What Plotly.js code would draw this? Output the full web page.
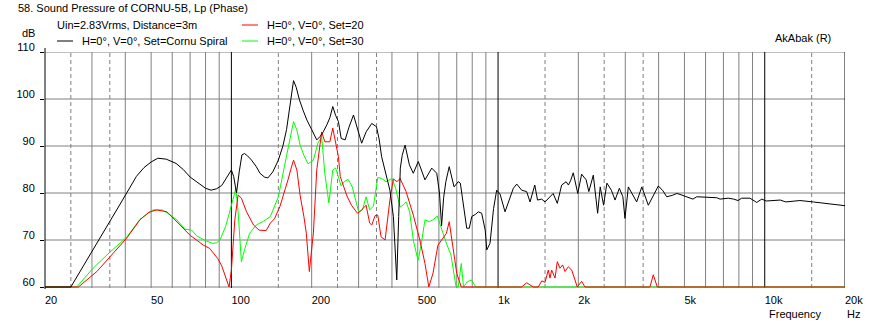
<!DOCTYPE html>
<html><head><meta charset="utf-8">
<script src="https://cdn.plot.ly/plotly-3.0.1.min.js"></script>
<style>html,body{margin:0;padding:0;background:#fff;} #chart{width:872px;height:326px;}</style>
</head><body><div id="chart"></div>
<script>
// [frequency Hz, SPL dB] ; values below 60 dB are shown clamped at 60 as in the reference
const cornuSpiral = [[20,60],[25,60],[40.5,80],[44,83.5],[47,85.4],[50,86.6],[53,87.4],[57,87.2],[62,86.3],[66,85],[70,83.4],[76,81.8],[80,81],[84,80.6],[88,80.9],[92,81.6],[96,83.2],[100,84.9],[102,83.5],[104.5,80.0],[107,84.5],[109.5,88.1],[112,88.4],[115,87.9],[119,87],[124,85.6],[128,84.2],[133,83.4],[137,83.2],[143,84.5],[150,87],[156,90],[161,93.5],[166,99],[171,103.9],[175,102.5],[180,99.8],[186,97.5],[192,95.5],[200,93.5],[209,91.3],[215,92],[221,93],[228,94.5],[234,96],[240,98.4],[246,96.5],[252,95.2],[258,91.6],[267,91.3],[276,94],[287,96.6],[297,93.5],[308,90.6],[320,93],[336,94.8],[350,94.1],[358,91.5],[366,87.7],[380,84],[393,80.6],[405,75],[417,61.5],[424,75],[430,85.3],[437,88],[448,90.2],[465,86],[481,84.2],[502,86.7],[532,82.8],[564,85.3],[589,84.2],[603,80],[614,73],[625,79],[637,82.4],[656,85.6],[684,81.3],[709,82.4],[722,82.1],[763,72.5],[780,72.5],[797,75],[825,75.5],[843,76],[868,75.7],[895,72.1],[907,67.9],[933,69.3],[962,76.7],[988,80.6],[1017,79.8],[1062,76.0],[1108,78.9],[1141,81],[1175,81.9],[1226,80.6],[1280,80.3],[1318,78.1],[1373,81.7],[1406,78.5],[1458,78.7],[1500,78.1],[1609,79.9],[1668,77.8],[1732,81.7],[1800,82.4],[1836,81.7],[1870,82.6],[1914,84.3],[1965,81.3],[1990,79.9],[2058,84.0],[2140,82.8],[2190,80.3],[2276,83.8],[2363,75.7],[2416,81.3],[2487,77.4],[2560,82.1],[2660,80.6],[2746,78.5],[2850,81.0],[2938,79.2],[2992,74.6],[3080,81.3],[3310,78.1],[3460,81.3],[3660,77.4],[3990,81.5],[4150,80.5],[4290,79.2],[4500,79.5],[4680,79.9],[4810,79.7],[5100,79.2],[5380,78.7],[5560,79.2],[6060,79.1],[6610,79.0],[6800,78.7],[7300,78.9],[7650,78.7],[7940,78.4],[8200,78.9],[8800,78.9],[9330,78.0],[9750,78.7],[10130,78.3],[11440,78.5],[12000,78.1],[13550,78.4],[15200,78.1],[17190,77.7],[19700,77.4],[20000,77.3]];

const set20 = [[20,60],[26.7,60],[31.3,63.3],[40.5,70.4],[45.4,74.3],[49,75.9],[52.4,76.4],[57.3,76],[64.2,73.2],[70,71],[74,70],[78.5,68.9],[83,68.2],[85.5,67.2],[89,66],[92,64.5],[95,62.3],[98,60],[100,63.5],[103,74.3],[106,79.6],[109,78.9],[114,76],[121,73.2],[127,72.1],[135,72],[140,73.6],[145,74.5],[152,77.1],[158,80],[163,82.8],[167,85],[171,87],[176,84.9],[181,79.5],[187,75],[191,71.4],[196,63.3],[203,71.5],[209,84.9],[218,93],[224,90.9],[234,90.9],[240,93.8],[246,90.5],[252,87.7],[256,83.5],[271,79.4],[282,77.4],[297,75.7],[303,76],[320,77.4],[330,73.6],[336,73.2],[346,75.2],[354,75.3],[364,70.7],[377,70],[393,78.5],[405,83],[418,82.4],[429,83.1],[452,80.3],[481,75.3],[509,70],[532,65],[550,60],[570,62.9],[595,68.9],[620,70.4],[640,71.4],[656,73.9],[676,68.6],[700,62.9],[728,60],[1226,60],[1280,60.9],[1356,60],[1415,60],[1458,61.3],[1500,61],[1543,63.6],[1566,61.9],[1589,63.6],[1635,61.9],[1668,65.4],[1707,64],[1747,64.7],[1783,63.3],[1834,64.3],[1889,63.6],[1943,61.5],[1982,60],[2058,61.2],[2118,60],[3712,60],[3820,62.6],[3954,60],[20000,60]];

const set30 = [[20,60],[26.3,60],[30.3,64],[35,67.4],[40.5,70.6],[45.4,74.4],[50.8,76.4],[55,76.4],[58,75.6],[62.4,74.3],[67,72.3],[71,72.1],[74,70.9],[79,70],[85,69.3],[88,69.4],[90.6,70],[95,72.8],[98,75.5],[101,78.5],[104,81],[106,76],[107.5,70],[109,65.4],[112,67.9],[117,71.4],[124,73.2],[132,74],[140,75],[150,79.2],[158,85.6],[166,92],[171,95.2],[176,93.4],[181,90.2],[187,88],[194,86.2],[203,87],[211,90.6],[218,92],[224,84.2],[232,77.9],[240,84.9],[246,85.3],[252,83.5],[258,81.5],[266,82.5],[274,82.9],[284,81.3],[300,76],[310,76.4],[320,79.2],[330,76.4],[341,77.2],[354,83.3],[366,83.1],[380,82.4],[400,83.1],[413,81],[429,77],[442,77.5],[452,78.1],[466,76],[481,70],[497,66.5],[502,65.7],[518,70],[532,74.3],[552,73.9],[570,74.3],[592,75.1],[615,72.1],[640,69.3],[666,66.8],[696,60],[709,60],[728,65],[742,60],[767,61.1],[795,61.5],[809,60.8],[825,60],[20000,60]];

const seriesNames = ['H=0°, V=0°, Set=Cornu Spiral','H=0°, V=0°, Set=20','H=0°, V=0°, Set=30'];
const freqTickVals = [20,50,100,200,500,1000,2000,5000,10000,20000];
const freqTickText = ['20','50','100','200','500','1k','2k','5k','10k','20k'];
const dbTicks = [60,70,80,90,100,110];
const gridSolid = [30,40,50,60,70,80,90,200,300,400,500,600,700,800,900,2000,3000,4000,5000,6000,7000,8000,9000];
const gridDashed = [25,35,150,250,350,1500,2500,3500,15000];
const gridDark = [100,1000,10000,20000];

// pixel layout helpers
const W = 872, H = 326, L = 45, R = 845, T = 52, B = 288;
const px = x => (x - L) / (R - L);
const py = y => (B - y) / (B - T);

const FONT = 'Liberation Sans, Arial, sans-serif';
const grey = '#808080';

const shapes = [];
gridSolid.forEach(f => shapes.push({type:'line', xref:'x', yref:'paper', x0:f, x1:f, y0:0, y1:1, layer:'below', line:{color:grey, width:1}}));
gridDashed.forEach(f => shapes.push({type:'line', xref:'x', yref:'paper', x0:f, x1:f, y0:0, y1:1, layer:'below', line:{color:grey, width:1, dash:'4px,3px'}}));
dbTicks.forEach(v => shapes.push({type:'line', xref:'paper', yref:'y', x0:0, x1:1, y0:v, y1:v, layer:'below', line:{color:grey, width:1}}));
gridDark.forEach(f => shapes.push({type:'line', xref:'x', yref:'paper', x0:f, x1:f, y0:0, y1:1, layer:'below', line:{color:'#000', width:1}}));
// left axis line
shapes.push({type:'line', xref:'paper', yref:'paper', x0:0, x1:0, y0:py(289), y1:py(48), layer:'above', line:{color:'#000', width:1}});
// legend line samples
shapes.push({type:'line', xref:'paper', yref:'paper', x0:px(57), x1:px(73), y0:py(41), y1:py(41), line:{color:'#000', width:1}});
shapes.push({type:'line', xref:'paper', yref:'paper', x0:px(242), x1:px(258), y0:py(25), y1:py(25), line:{color:'#ff0000', width:1}});
shapes.push({type:'line', xref:'paper', yref:'paper', x0:px(242), x1:px(258), y0:py(41), y1:py(41), line:{color:'#00ff00', width:1}});

const txt = (text, x, y, anchor) => ({text, xref:'paper', yref:'paper', x:px(x), y:py(y), xanchor:anchor||'left', yanchor:'middle', showarrow:false, font:{family:FONT, size:11, color:'#000'}});
const annotations = [
  txt('Uin=2.83Vrms, Distance=3m', 55, 25),
  txt(seriesNames[0], 80, 41),
  txt(seriesNames[1], 265, 25),
  txt(seriesNames[2], 265, 41),
  txt('dB', 37, 33, 'right'),
  txt('AkAbak (R)', 773, 38),
  txt('Frequency', 767, 314),
  txt('Hz', 845, 314)
];

const mk = (data, color, name) => ({x:data.map(d=>d[0]), y:data.map(d=>d[1]), type:'scatter', mode:'lines', name, line:{color, width:1}, hoverinfo:'skip', showlegend:false});
const traces = [mk(set30,'#00ff00',seriesNames[2]), mk(set20,'#ff0000',seriesNames[1]), mk(cornuSpiral,'#000000',seriesNames[0])];

const layout = {
  width:W, height:H, paper_bgcolor:'#fff', plot_bgcolor:'#fff',
  margin:{l:L, r:W-R, t:T, b:H-B},
  title:{text:'58. Sound Pressure of CORNU-5B, Lp (Phase)', xref:'container', yref:'container', x:18/W, xanchor:'left', y:1-8/H, yanchor:'middle', font:{family:FONT, size:11, color:'#000'}},
  showlegend:false,
  xaxis:{type:'log', range:[Math.log10(20), Math.log10(20000)], showgrid:false, zeroline:false, showline:false,
    tickvals:freqTickVals, ticktext:freqTickText, ticks:'', ticklabelposition:'outside right', ticklabelstandoff:4,
    tickfont:{family:FONT, size:11, color:'#000'}, fixedrange:true},
  yaxis:{range:[59.79,110], showgrid:false, zeroline:false, showline:false, tickvals:dbTicks,
    ticks:'outside', ticklen:4, tickcolor:'#000', ticklabelshift:-5, ticklabelstandoff:3,
    tickfont:{family:FONT, size:11, color:'#000'}, fixedrange:true},
  shapes, annotations
};
Plotly.newPlot('chart', traces, layout, {staticPlot:true, displayModeBar:false});
</script></body></html>
